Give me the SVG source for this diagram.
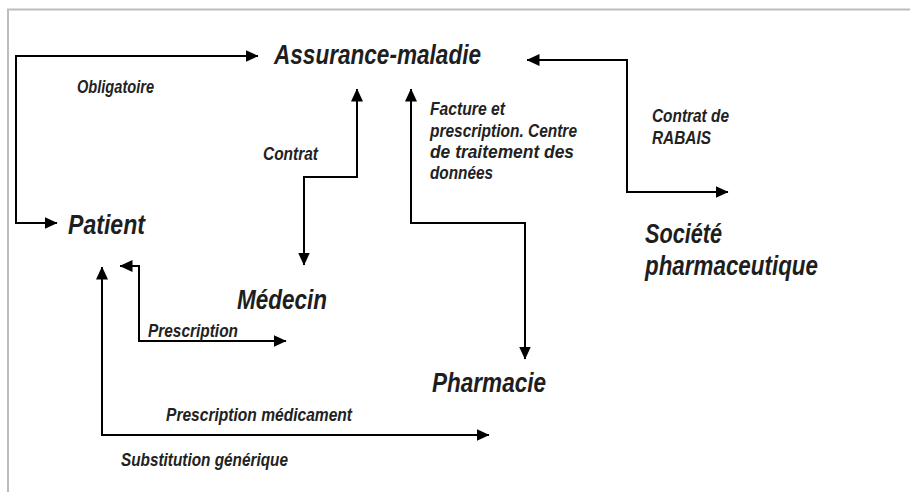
<svg xmlns="http://www.w3.org/2000/svg" width="910" height="492" viewBox="0 0 910 492">
<style>
.big{font-family:"Liberation Sans",Arial,sans-serif;font-weight:bold;font-style:italic;font-size:27px;fill:#1e1e1e}
.lbl{font-family:"Liberation Sans",Arial,sans-serif;font-weight:bold;font-style:italic;font-size:18px;fill:#222}
.con{fill:none;stroke:#000;stroke-width:2;marker-start:url(#ah);marker-end:url(#ah)}
</style>
<defs>
<marker id="ah" markerUnits="userSpaceOnUse" markerWidth="13" markerHeight="12" viewBox="0 0 13 12" refX="12.5" refY="6" orient="auto-start-reverse">
<path d="M0,0 L13,6 L0,12 z" fill="#000"/>
</marker>
</defs>
<rect width="910" height="492" fill="#fff"/>
<g id="frame" stroke="#bdbdbd" stroke-width="2" fill="none">
<path d="M910,9.5 L8,9.5 L8,492"/>
</g>
<g id="connectors">
<path class="con" d="M57,223 L16,223 L16,56 L258,56"/>
<path class="con" d="M357,89 L357,177 L304,177 L304,265"/>
<path class="con" d="M411,89 L411,223 L525,223 L525,359"/>
<path class="con" d="M527,60 L627,60 L627,192 L728,192"/>
<path class="con" d="M120,266 L139,266 L139,341 L286,341"/>
<path class="con" d="M102,267 L102,435 L489,435"/>
</g>
<g id="labels">
<text class="lbl" x="77" y="93" textLength="77" lengthAdjust="spacingAndGlyphs">Obligatoire</text>
<text class="lbl" x="263" y="160" textLength="55" lengthAdjust="spacingAndGlyphs">Contrat</text>
<text class="lbl" x="430" y="115" textLength="75" lengthAdjust="spacingAndGlyphs">Facture et</text>
<text class="lbl" x="430" y="137" textLength="147" lengthAdjust="spacingAndGlyphs">prescription. Centre</text>
<text class="lbl" x="430" y="158" textLength="144" lengthAdjust="spacingAndGlyphs">de traitement des</text>
<text class="lbl" x="430" y="179" textLength="63" lengthAdjust="spacingAndGlyphs">données</text>
<text class="lbl" x="652" y="122" textLength="77" lengthAdjust="spacingAndGlyphs">Contrat de</text>
<text class="lbl" x="652" y="144" textLength="59" lengthAdjust="spacingAndGlyphs">RABAIS</text>
<text class="lbl" x="148" y="337" textLength="90" lengthAdjust="spacingAndGlyphs">Prescription</text>
<text class="lbl" x="166" y="421" textLength="186" lengthAdjust="spacingAndGlyphs">Prescription médicament</text>
<text class="lbl" x="121" y="466" textLength="167" lengthAdjust="spacingAndGlyphs">Substitution générique</text>
</g>
<g id="assurance"><text class="big" x="274" y="64" textLength="207" lengthAdjust="spacingAndGlyphs">Assurance-maladie</text></g>
<g id="patient"><text class="big" x="68" y="234" textLength="77" lengthAdjust="spacingAndGlyphs">Patient</text></g>
<g id="medecin"><text class="big" x="237" y="309" textLength="90" lengthAdjust="spacingAndGlyphs">Médecin</text></g>
<g id="pharmacie"><text class="big" x="432" y="392" textLength="114" lengthAdjust="spacingAndGlyphs">Pharmacie</text></g>
<g id="societe">
<text class="big" x="645" y="243" textLength="77" lengthAdjust="spacingAndGlyphs">Société</text>
<text class="big" x="645" y="275" textLength="173" lengthAdjust="spacingAndGlyphs">pharmaceutique</text>
</g>
</svg>
